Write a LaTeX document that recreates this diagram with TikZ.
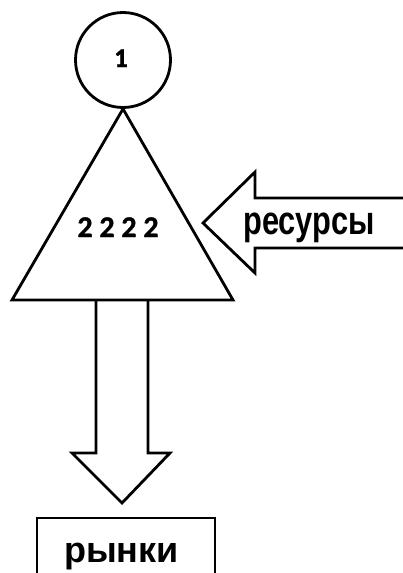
\documentclass[tikz,border=0pt]{standalone}
\usepackage{fontspec}
\setmainfont{Carlito}
\newfontfamily\digitfont{Carlito}[BoldFeatures={FakeBold=1.2}]
\newfontfamily\narrowfont{Liberation Sans}[FakeStretch=0.77]
\newfontfamily\wordfont{Liberation Sans}
\usetikzlibrary{positioning, calc}
\tikzset{
    contour/.style={draw=black, line width=2.8pt, line join=miter},
    numlabel/.style={font=\digitfont\bfseries\fontsize{30}{30}\selectfont, inner sep=0pt},
    narrowlabel/.style={font=\narrowfont\bfseries\fontsize{40}{40}\selectfont, inner sep=0pt},
    wordlabel/.style={font=\wordfont\bfseries\fontsize{36}{36}\selectfont, inner sep=0pt},
}

\begin{document}
\begin{tikzpicture}[x=1pt, y=-1pt]
    \useasboundingbox (0,0) rectangle (403,573);
    \clip (0,0) rectangle (403,573);

    % кружок с номером
    \node[contour, circle, minimum size=95pt, inner sep=0pt] (top) at (123,60) {};
    \node[numlabel, anchor=base, font=\digitfont\bfseries\fontsize{27}{27}\selectfont] (topnum) at (121,67) {1};

    % треугольник
    \coordinate (baseL) at (12,300);
    \coordinate (baseR) at (233,300);
    \draw[contour] (top.south) -- (baseR) -- (baseL) -- cycle;
    \node[numlabel, anchor=base] (digits) at (118,237) {2 2 2 2};

    % стрелка ресурсов (справа налево)
    \draw[contour] (410,198) -- (255,198) -- (255,172) -- (203,223)
        -- (255,273) -- (255,248) -- (410,248);
    \node[narrowlabel, anchor=base] (res) at (309,234) {ресурсы};

    % стрелка вниз к рынкам
    \draw[contour] (96,300) -- (96,453) -- (72,453) -- (122,503)
        -- (170,453) -- (148,453) -- (148,300);

    % рамка внизу
    \draw[contour] (37,518) rectangle (215,610);
    \node[wordlabel, anchor=base] (markets) at (121.5,562) {рынки};
\end{tikzpicture}
\end{document}
